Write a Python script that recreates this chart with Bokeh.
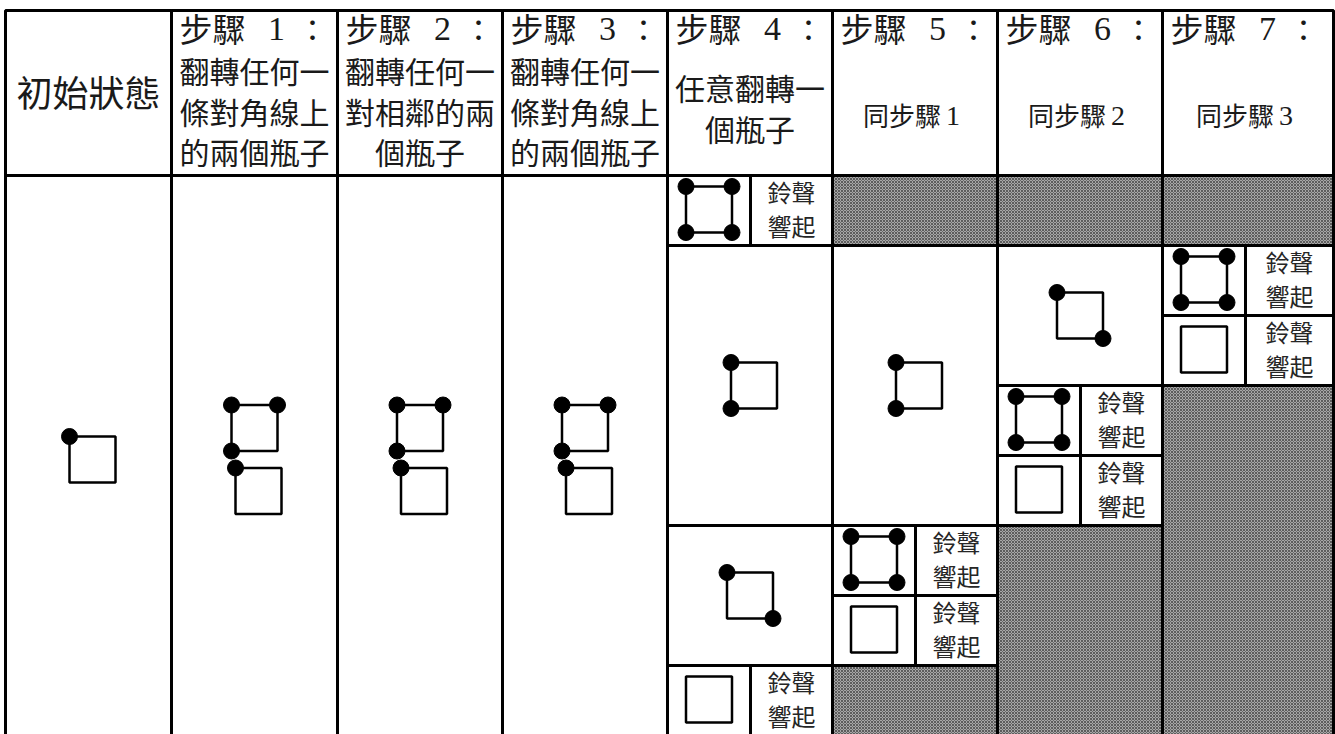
from bokeh.plotting import figure
from bokeh.models import Range1d
from bokeh.core.properties import value
from bokeh.embed import file_html
from bokeh.resources import INLINE

# ---------------- data ----------------
first_header = "初始狀態"
step_label = "步驟"
step_numbers = ["1", "2", "3", "4", "5", "6", "7"]
step_desc = [
    ["翻轉任何一", "條對角線上", "的兩個瓶子"],
    ["翻轉任何一", "對相鄰的兩", "個瓶子"],
    ["翻轉任何一", "條對角線上", "的兩個瓶子"],
    ["任意翻轉一", "個瓶子"],
    [],
    [],
    [],
]
same_as_step = [None, None, None, None, "1", "2", "3"]
ring_text = ["鈴聲", "響起"]

# bottle states: corners (top-left, top-right, bottom-left, bottom-right), 1 = dot
# icons shown in the tall cells of the first four columns (stacked top to bottom)
column_icons = [["1000"], ["1110", "1000"], ["1110", "1000"], ["1110", "1000"]]

# later columns: (column index, first row unit, rows spanned, kind, state)
body_cells = [
    (4, 0, 1, "ring", "1111"),
    (4, 1, 4, "state", "1010"),
    (4, 5, 2, "state", "1001"),
    (4, 7, 1, "ring", "0000"),
    (5, 0, 1, "blocked", ""),
    (5, 1, 4, "state", "1010"),
    (5, 5, 1, "ring", "1111"),
    (5, 6, 1, "ring", "0000"),
    (5, 7, 1, "blocked", ""),
    (6, 0, 1, "blocked", ""),
    (6, 1, 2, "state", "1001"),
    (6, 3, 1, "ring", "1111"),
    (6, 4, 1, "ring", "0000"),
    (6, 5, 3, "blocked", ""),
    (7, 0, 1, "blocked", ""),
    (7, 1, 1, "ring", "1111"),
    (7, 2, 1, "ring", "0000"),
    (7, 3, 5, "blocked", ""),
]
n_row_units = 8

# ---------------- layout ----------------
col_edges = [5, 171, 337, 502, 667, 832, 997, 1162, 1333]
header_top, header_bottom = 10, 175
row_unit = 70
icon_size = 46
dot_size = 16
dot_r = 8
icon_gap = 17
split_offset = 83

CJK = value("Noto Sans CJK TC")
SERIF = value("Liberation Serif")
INK = "#1a1a1a"

p = figure(width=1335, height=734, x_range=Range1d(0, 1335), y_range=Range1d(734, 0),
           output_backend="svg", toolbar_location=None, x_axis_type=None, y_axis_type=None,
           min_border=0, min_border_left=0, min_border_right=0, min_border_top=0,
           min_border_bottom=0)
p.xgrid.visible = False
p.ygrid.visible = False
p.outline_line_color = None
p.background_fill_color = "white"
p.border_fill_color = "white"

body_top = header_bottom
body_bottom = header_bottom + n_row_units * row_unit

# cells: white and blocked
wl, wr, wt, wb = [], [], [], []
gl, gr, gt, gb = [], [], [], []
for c in range(8):
    wl.append(col_edges[c]); wr.append(col_edges[c + 1]); wt.append(header_top); wb.append(header_bottom)
for c in range(4):
    wl.append(col_edges[c]); wr.append(col_edges[c + 1]); wt.append(body_top); wb.append(body_bottom)
for (c, r0, span, kind, st) in body_cells:
    t = body_top + r0 * row_unit
    b = t + span * row_unit
    if kind == "blocked":
        gl.append(col_edges[c]); gr.append(col_edges[c + 1]); gt.append(t); gb.append(b)
    else:
        wl.append(col_edges[c]); wr.append(col_edges[c + 1]); wt.append(t); wb.append(b)

p.quad(left=wl, right=wr, top=wt, bottom=wb, fill_color="white", line_color="black", line_width=3)
p.quad(left=gl, right=gr, top=gt, bottom=gb, fill_color="#a6a6a6", line_color="black", line_width=3,
       hatch_pattern="x", hatch_scale=3, hatch_color="#5c5c5c", hatch_weight=1)

# split lines inside ring cells
sx0, sx1, sy0, sy1 = [], [], [], []

# icons
sq_x, sq_y = [], []
dot_x, dot_y = [], []


def place_icon(cx, cy, state):
    h = icon_size / 2
    corners = [(-h, -h), (h, -h), (-h, h), (h, h)]
    xs = [cx + dx for dx, _ in corners]
    ys = [cy + dy for _, dy in corners]
    sq_x.append(cx); sq_y.append(cy)
    for k, ch in enumerate(state):
        if ch == "1":
            dot_x.append(xs[k]); dot_y.append(ys[k])


def bbox_shift(state):
    h = icon_size / 2
    left = -h - (dot_r if state[0] == "1" or state[2] == "1" else 0)
    right = h + (dot_r if state[1] == "1" or state[3] == "1" else 0)
    top = -h - (dot_r if state[0] == "1" or state[1] == "1" else 0)
    bottom = h + (dot_r if state[2] == "1" or state[3] == "1" else 0)
    return -(left + right) / 2, top, bottom


for c, icons in enumerate(column_icons):
    cx = (col_edges[c] + col_edges[c + 1]) / 2
    cy = (body_top + body_bottom) / 2
    tops, shifts = [], []
    for st in icons:
        sx, tp, bt = bbox_shift(st)
        shifts.append(sx); tops.append(tp)
    centers = [0.0]
    for i in range(1, len(icons)):
        centers.append(centers[-1] + icon_size + icon_gap)
    g_top = centers[0] + tops[0]
    g_bot = centers[-1] + icon_size / 2
    off = cy - (g_top + g_bot) / 2
    for st, sx, cc in zip(icons, shifts, centers):
        place_icon(cx + sx, cc + off, st)

ring_tx, ring_ty, ring_tt = [], [], []
for (c, r0, span, kind, st) in body_cells:
    t = body_top + r0 * row_unit
    b = t + span * row_unit
    cy = (t + b) / 2
    if kind == "state":
        cx = (col_edges[c] + col_edges[c + 1]) / 2
        sx, tp, bt = bbox_shift(st)
        place_icon(cx + sx, cy - (tp + bt) / 2, st)
    elif kind == "ring":
        split = col_edges[c] + split_offset
        sx0.append(split); sx1.append(split); sy0.append(t); sy1.append(b)
        place_icon((col_edges[c] + split) / 2, cy - 1, st)
        tx = (split + col_edges[c + 1]) / 2
        ring_tx += [tx, tx]
        ring_ty += [cy - 19, cy + 15]
        ring_tt += ring_text

p.segment(x0=sx0, y0=sy0, x1=sx1, y1=sy1, line_color="black", line_width=3)

p.rect(x=sq_x, y=sq_y, width=icon_size, height=icon_size, fill_color=None,
       line_color="black", line_width=2.5)
p.scatter(x=dot_x, y=dot_y, size=dot_size, marker="circle", fill_color="black", line_color="black")

# ---------------- texts ----------------
p.text(x=[(col_edges[0] + col_edges[1]) / 2], y=[90], text=[first_header], text_font=CJK,
       text_font_size=value("36px"), text_align="center", text_baseline="middle", text_color=INK)

hx, hy, ht = [], [], []
nx, ny, nt = [], [], []
cx_, cy_, ct = [], [], []
dx, dy, dt = [], [], []
for i, num in enumerate(step_numbers):
    cl = col_edges[i + 1]
    cr = col_edges[i + 2]
    cc = (cl + cr) / 2
    hx.append(cl + 8); hy.append(27); ht.append(step_label)
    nx.append(cl + 105); ny.append(28); nt.append(num)
    cx_.append(cl + 141); cy_.append(27); ct.append("：")
    lines = step_desc[i]
    if lines:
        n = len(lines)
        mid = 110 if n == 3 else 107
        for k, ln in enumerate(lines):
            dx.append(cc); dy.append(mid + (k - (n - 1) / 2) * 40.5); dt.append(ln)

p.text(x=hx, y=hy, text=ht, text_font=CJK, text_font_size=value("33px"), text_align="left",
       text_baseline="middle", text_color=INK)
p.text(x=nx, y=ny, text=nt, text_font=SERIF, text_font_size=value("34px"), text_align="center",
       text_baseline="middle", text_color=INK)
p.text(x=cx_, y=cy_, text=ct, text_font=CJK, text_font_size=value("30px"), text_align="center",
       text_baseline="middle", text_color=INK)
p.text(x=dx, y=dy, text=dt, text_font=CJK, text_font_size=value("30px"), text_align="center",
       text_baseline="middle", text_color=INK)

sx_, sy_, st_ = [], [], []
snx, sny, snt = [], [], []
for i, ref in enumerate(same_as_step):
    if ref is None:
        continue
    cc = (col_edges[i + 1] + col_edges[i + 2]) / 2
    sx_.append(cc + 26); sy_.append(114); st_.append("同" + step_label)
    snx.append(cc + 31); sny.append(115); snt.append(ref)
p.text(x=sx_, y=sy_, text=st_, text_font=CJK, text_font_size=value("26px"), text_align="right",
       text_baseline="middle", text_color=INK)
p.text(x=snx, y=sny, text=snt, text_font=SERIF, text_font_size=value("28px"), text_align="left",
       text_baseline="middle", text_color=INK)

p.text(x=ring_tx, y=ring_ty, text=ring_tt, text_font=CJK, text_font_size=value("24px"),
       text_align="center", text_baseline="middle", text_color="#262626")

open("out.html", "w").write(file_html(p, INLINE))
